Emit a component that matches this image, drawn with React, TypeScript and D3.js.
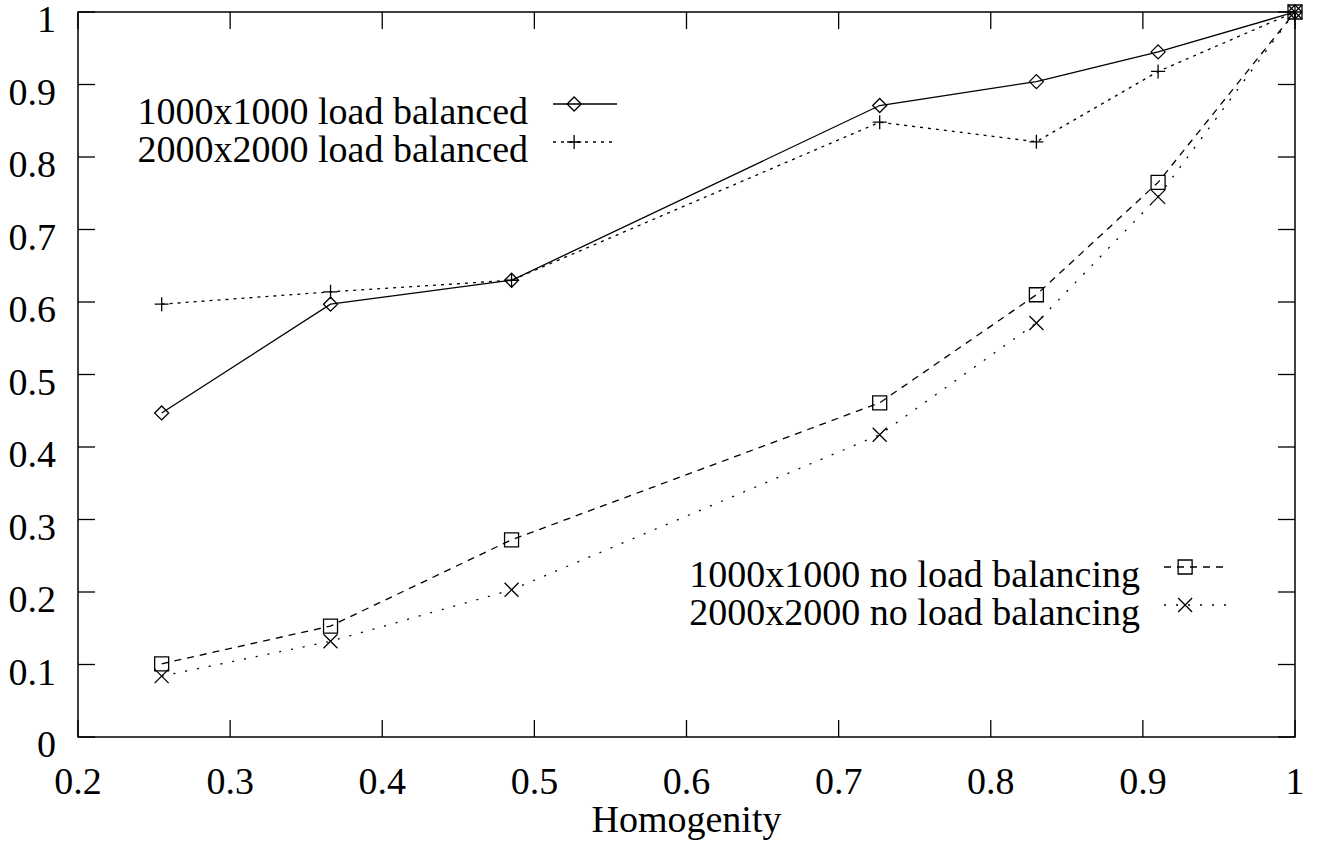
import React, { useEffect } from "react";
import * as d3 from "d3";

const homogenity = [0.255, 0.366, 0.485, 0.727, 0.83, 0.91, 1.0];
const lb1000 = [0.447, 0.597, 0.63, 0.871, 0.904, 0.945, 1.0];
const lb2000 = [0.597, 0.614, 0.63, 0.848, 0.821, 0.918, 1.0];
const nolb1000 = [0.101, 0.153, 0.272, 0.461, 0.61, 0.765, 1.0];
const nolb2000 = [0.084, 0.132, 0.203, 0.417, 0.571, 0.745, 1.0];

const xTicks = [0.2, 0.3, 0.4, 0.5, 0.6, 0.7, 0.8, 0.9, 1];
const yTicks = [0, 0.1, 0.2, 0.3, 0.4, 0.5, 0.6, 0.7, 0.8, 0.9, 1];
const xLabel = "Homogenity";

type Marker = "diamond" | "plus" | "square" | "cross";
const seriesDefs: { name: string; values: number[]; dash: string | undefined; marker: Marker }[] = [
  { name: "1000x1000 load balanced", values: lb1000, dash: undefined, marker: "diamond" },
  { name: "2000x2000 load balanced", values: lb2000, dash: "3,5", marker: "plus" },
  { name: "1000x1000 no load balancing", values: nolb1000, dash: "7,6", marker: "square" },
  { name: "2000x2000 no load balancing", values: nolb2000, dash: "2,10", marker: "cross" },
];

const W = 1322, H = 844;
const L = 78, R = 1295, T = 12, B = 737;
const FONT = "'Liberation Serif', 'Times New Roman', serif";
const FS = 38;
const TICK = 17;

function markerPath(m: Marker, x: number, y: number): string {
  const s = 7;
  switch (m) {
    case "diamond":
      return `M${x - s},${y}L${x},${y - s}L${x + s},${y}L${x},${y + s}Z`;
    case "plus":
      return `M${x - s},${y}L${x + s},${y}M${x},${y - s}L${x},${y + s}`;
    case "square":
      return `M${x - s},${y - s}L${x + s},${y - s}L${x + s},${y + s}L${x - s},${y + s}Z`;
    case "cross":
      return `M${x - s},${y - s}L${x + s},${y + s}M${x + s},${y - s}L${x - s},${y + s}`;
  }
}

export default function App() {
  useEffect(() => {
    document.body.style.margin = "0";
  }, []);
  const x = d3.scaleLinear().domain([0.2, 1]).range([L, R]);
  const y = d3.scaleLinear().domain([0, 1]).range([B, T]);
  const line = d3
    .line<number>()
    .x((_, i) => x(homogenity[i]))
    .y((d) => y(d));

  const legends = [
    { idx: 0, textRight: 528, lineX0: 553, lineX1: 617, yy: 104 },
    { idx: 1, textRight: 528, lineX0: 553, lineX1: 617, yy: 142 },
    { idx: 2, textRight: 1140, lineX0: 1164, lineX1: 1228, yy: 567 },
    { idx: 3, textRight: 1140, lineX0: 1164, lineX1: 1228, yy: 605 },
  ];

  return (
    <svg width={W} height={H} style={{ position: "absolute", left: 0, top: 0, background: "#fff" }} fontFamily={FONT}>
      <rect x={0} y={0} width={W} height={H} fill="#fff" />
      {/* ticks */}
      {yTicks.map((t) => (
        <g key={"y" + t}>
          <line x1={L} x2={L + TICK} y1={y(t)} y2={y(t)} stroke="#000" strokeWidth={1.3} />
          <line x1={R} x2={R - TICK} y1={y(t)} y2={y(t)} stroke="#000" strokeWidth={1.3} />
          <text x={56} y={y(t) + 20} fontSize={FS} textAnchor="end" fill="#000">
            {d3.format("~g")(t)}
          </text>
        </g>
      ))}
      {xTicks.map((t) => (
        <g key={"x" + t}>
          <line x1={x(t)} x2={x(t)} y1={B} y2={B - TICK} stroke="#000" strokeWidth={1.3} />
          <line x1={x(t)} x2={x(t)} y1={T} y2={T + TICK} stroke="#000" strokeWidth={1.3} />
          <text x={x(t)} y={794} fontSize={FS} textAnchor="middle" fill="#000">
            {d3.format("~g")(t)}
          </text>
        </g>
      ))}
      <rect x={L} y={T} width={R - L} height={B - T} fill="none" stroke="#000" strokeWidth={1.5} />
      <text x={(L + R) / 2} y={832} fontSize={FS} textAnchor="middle" fill="#000">
        {xLabel}
      </text>
      {/* series */}
      {seriesDefs.map((s) => (
        <g key={s.name}>
          <path d={line(s.values) || ""} fill="none" stroke="#000" strokeWidth={1.3} strokeDasharray={s.dash} />
          {s.values.map((v, i) => (
            <path key={i} d={markerPath(s.marker, x(homogenity[i]), y(v))} fill="none" stroke="#000" strokeWidth={1.3} />
          ))}
        </g>
      ))}
      {/* legends */}
      {legends.map((lg) => {
        const s = seriesDefs[lg.idx];
        const mx = lg.lineX0 + (lg.lineX1 - lg.lineX0) * 0.33;
        return (
          <g key={"lg" + lg.idx}>
            <text x={lg.textRight} y={lg.yy + 20} fontSize={FS} textAnchor="end" fill="#000">
              {s.name}
            </text>
            <line x1={lg.lineX0} x2={lg.lineX1} y1={lg.yy} y2={lg.yy} stroke="#000" strokeWidth={1.3} strokeDasharray={s.dash} />
            <path d={markerPath(s.marker, mx, lg.yy)} fill="none" stroke="#000" strokeWidth={1.3} />
          </g>
        );
      })}
    </svg>
  );
}
